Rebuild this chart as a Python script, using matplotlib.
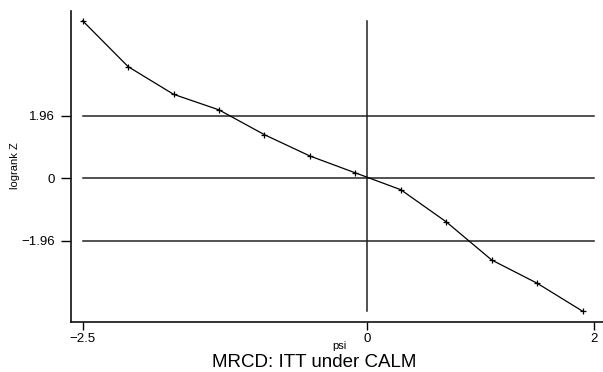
import matplotlib
matplotlib.use("Agg")
import matplotlib.pyplot as plt

plt.rcParams['font.family'] = ['Liberation Sans', 'DejaVu Sans']

# logrank Z over a grid of psi values
psi = [-2.5, -2.1, -1.7, -1.3, -0.9, -0.5, -0.1, 0.3, 0.7, 1.1, 1.5, 1.9]
z = [4.95, 3.51, 2.64, 2.15, 1.37, 0.70, 0.17, -0.36, -1.37, -2.57, -3.30, -4.18]

yticks = [-1.96, 0, 1.96]
ytick_labels = ['\u22121.96', '0', '1.96']
xticks = [-2.5, 0, 2]
xtick_labels = ['\u22122.5', '0', '2']

fig = plt.figure(figsize=(6.03, 3.72), dpi=100)
ax = fig.add_axes([71 / 603, 50 / 372, 532 / 603, 311 / 372])

ax.set_xlim(-2.603, 2.080)
ax.set_ylim(-4.52, 5.26)

# reference lines
for yv in yticks:
    ax.plot([-2.5, 2], [yv, yv], color='#222222', lw=1.1, zorder=1)
ax.plot([0, 0], [min(z), max(z)], color='#222222', lw=1.1, zorder=1)

ax.plot(psi, z, color='black', lw=0.9, marker='+', markersize=5,
        markeredgewidth=0.9, zorder=3)

ax.set_xticks(xticks)
ax.set_xticklabels(xtick_labels, fontsize=9.5)
ax.set_yticks(yticks)
ax.set_yticklabels(ytick_labels, fontsize=9.5)
ax.tick_params(axis='y', length=7, width=1, pad=4.5)
ax.tick_params(axis='x', length=6, width=1, pad=2)

for s in ['top', 'right']:
    ax.spines[s].set_visible(False)
for s in ['left', 'bottom']:
    ax.spines[s].set_linewidth(1.2)
    ax.spines[s].set_color('#111111')

fig.text(339 / 603, 1 - 349 / 372, 'psi', fontsize=8, ha='center',
         va='baseline')
fig.text(15 / 603, 1 - 166 / 372, 'logrank Z', fontsize=8, ha='center',
         va='center', rotation=90)
fig.text(314 / 603, 1 - 367 / 372, 'MRCD: ITT under CALM', fontsize=13.5,
         ha='center', va='baseline')

fig.savefig('out.png', dpi=100)
